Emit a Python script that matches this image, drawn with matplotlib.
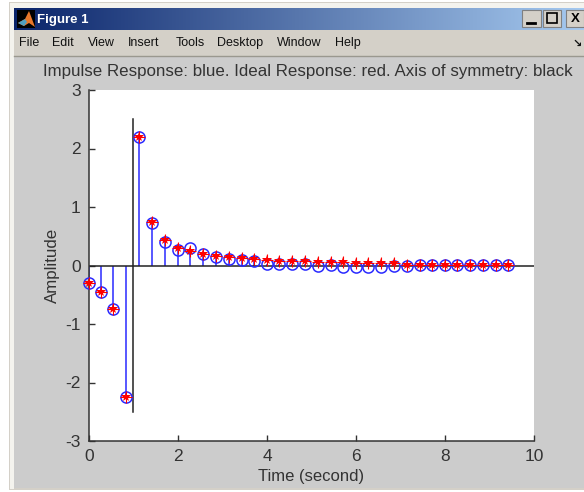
import matplotlib
matplotlib.use('Agg')
import matplotlib.pyplot as plt
import numpy as np
from matplotlib.patches import Rectangle, Polygon

plt.rcParams['font.family'] = ['Liberation Sans', 'DejaVu Sans']
plt.rcParams['axes.unicode_minus'] = False

# sample times and values
time = [0.0, 0.26, 0.55, 0.84, 1.12, 1.42, 1.70, 1.99, 2.28, 2.57, 2.85, 3.14,
        3.43, 3.71, 4.0, 4.28, 4.57, 4.86, 5.14, 5.43, 5.71, 6.0, 6.28, 6.57,
        6.86, 7.14, 7.43, 7.71, 8.0, 8.28, 8.57, 8.86, 9.14, 9.42]
impulse = [-0.30, -0.45, -0.74, -2.25, 2.20, 0.72, 0.40, 0.27, 0.30, 0.19, 0.15, 0.11,
           0.10, 0.07, 0.03, 0.03, 0.03, 0.02, 0.00, 0.01, -0.02, -0.02, -0.02, -0.02,
           0.00, 0.00, 0.01, 0.01, 0.01, 0.01, 0.01, 0.01, 0.01, 0.01]
ideal = [-0.30, -0.45, -0.74, -2.25, 2.20, 0.74, 0.43, 0.30, 0.24, 0.20, 0.17, 0.14,
         0.13, 0.11, 0.09, 0.08, 0.08, 0.07, 0.06, 0.06, 0.06, 0.05, 0.05, 0.05,
         0.04, 0.01, 0.01, 0.01, 0.01, 0.01, 0.01, 0.01, 0.01, 0.01]
sym_x = [0.98, 0.98]
sym_y = [-2.5, 2.5]

menu_items = ['File', 'Edit', 'View', 'Insert', 'Tools', 'Desktop', 'Window', 'Help']
menu_x = [19, 52, 88, 128, 176, 217, 277, 335]

W, H = 584, 492
fig = plt.figure(figsize=(W / 100, H / 100), dpi=100, facecolor='white')

# window frame, in pixel coordinates
bg = fig.add_axes([0, 0, 1, 1])
bg.set_xlim(0, W)
bg.set_ylim(H, 0)
bg.axis('off')
bg.add_patch(Rectangle((9, 2), W - 9, 488, fc='#d4d0c8', ec='none'))
bg.add_patch(Rectangle((10, 3), W - 10, 486, fc='#f4f3ee', ec='none'))
bg.add_patch(Rectangle((14, 8), W - 14, 481, fc='#d4d0c8', ec='none'))
bg.add_patch(Rectangle((14, 57), W - 14, 431, fc='#cccccc', ec='none'))
bg.plot([14, W], [55.5, 55.5], color='#9a988f', lw=1)

# title bar gradient
grad = np.linspace(0, 1, 256)[None, :, None]
start = np.array([10, 36, 106]) / 255
end = np.array([166, 202, 240]) / 255
bg.imshow(start + grad * (end - start), extent=(14, W, 30, 8), aspect='auto', zorder=1)
bg.set_xlim(0, W)
bg.set_ylim(H, 0)

# matlab icon
bg.add_patch(Rectangle((17, 10), 18, 18, fc='black', ec='none', zorder=2))
bg.add_patch(Polygon([[18, 23], [25, 19], [29, 11], [35, 27], [29, 23], [24, 26]],
                     fc='#e8772a', ec='none', zorder=3))
bg.add_patch(Polygon([[18, 23], [25, 19], [27, 22], [24, 26]],
                     fc='#4f9fc0', ec='none', zorder=4))
bg.text(37, 19.5, 'Figure 1', color='white', fontsize=9.5, fontweight='bold',
        va='center', family=['Liberation Sans'])

# window buttons
for x0, w0 in [(522, 19), (543, 18), (566, 18)]:
    bg.add_patch(Rectangle((x0, 10), w0, 17, fc='#d4d0c8', ec='#808080', lw=0.8, zorder=2))
bg.plot([527, 535], [23, 23], color='black', lw=2, zorder=3)
bg.add_patch(Rectangle((547, 13), 10, 10, fc='none', ec='black', lw=1.2, zorder=3))
bg.text(575, 18.5, 'X', fontsize=9.5, fontweight='bold', ha='center', va='center', zorder=3)

for name, mx in zip(menu_items, menu_x):
    bg.text(mx, 43, name, fontsize=9, va='center', color='#111111')
bg.text(577, 44, '\u2198', fontsize=8, fontweight='bold', ha='center', va='center', color='#111111')

# chart
ax = fig.add_axes([89 / W, 1 - 441 / H, 445 / W, 351 / H])
ax.set_facecolor('white')
for s in ['top', 'right']:
    ax.spines[s].set_visible(False)
for s in ['left', 'bottom']:
    ax.spines[s].set_color('#333333')
    ax.spines[s].set_linewidth(1.1)

ax.vlines(time, 0, impulse, color='#2a2aff', lw=1.1, zorder=2)
ax.plot(time, impulse, 'o', mfc='none', mec='#2a2aff', mew=1.1, ms=8, zorder=3, clip_on=False)
ax.plot(time, ideal, linestyle='none', marker='*', color='#ff0000', ms=7.5, mew=0, zorder=4, clip_on=False)
ax.plot(time, ideal, linestyle='none', marker='+', color='#ff0000', mew=0.8, ms=9, zorder=4, clip_on=False)
ax.axhline(0, color='#222222', lw=1.1, zorder=2.5)
ax.plot(sym_x, sym_y, color='#222222', lw=1.1, zorder=2.5)

ax.set_xlim(0, 10)
ax.set_ylim(-3, 3)
ax.set_xticks([0, 2, 4, 6, 8, 10])
ax.set_yticks([-3, -2, -1, 0, 1, 2, 3])
ax.tick_params(direction='in', length=4.5, width=1, color='#333333', labelsize=12.5,
               labelcolor='#333333')
ax.tick_params(axis='x', pad=6)
ax.tick_params(axis='y', pad=6)
ax.set_xlabel('Time (second)', fontsize=12, color='#333333', labelpad=3)
ax.set_ylabel('Amplitude', fontsize=12.2, color='#333333', labelpad=4)
ax.set_title('Impulse Response: blue. Ideal Response: red. Axis of symmetry: black',
             fontsize=12.2, color='#333333', x=(308 - 89) / 445, pad=10)

fig.savefig('out.png', dpi=100, facecolor=fig.get_facecolor())
